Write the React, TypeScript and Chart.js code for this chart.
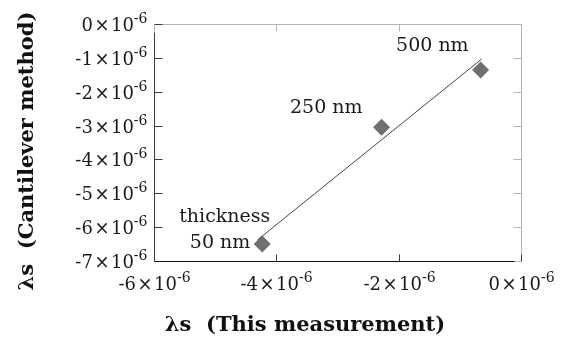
import React, { useEffect, useRef } from "react";
import { Chart, registerables } from "chart.js";
Chart.register(...registerables);

// ---- data ----
const thicknessLabels = ["50 nm", "250 nm", "500 nm"];
const thisMeasurement = [-4.23e-6, -2.28e-6, -0.66e-6];
const cantileverMethod = [-6.5e-6, -3.05e-6, -1.36e-6];
const fitX = [-4.31e-6, -0.64e-6];
const fitY = [-6.38e-6, -1.03e-6];
const xTickValues = [-6, -4, -2, 0];
const yTickValues = [0, -1, -2, -3, -4, -5, -6, -7];
const xTitle = "λs  (This measurement)";
const yTitle = "λs  (Cantilever method)";
const extraLabel = "thickness";

const FONT = "'DejaVu Serif', 'Liberation Serif', serif";
const TICK_PX = 18;
const SUP_PX = 14;
const ANNO_PX = 19;

function drawSciLabel(ctx: CanvasRenderingContext2D, mant: number, x: number, y: number, align: "right" | "center") {
  const a = `${mant}`;
  const times = "×";
  const ten = "10";
  const sup = "-6";
  ctx.font = `${TICK_PX}px ${FONT}`;
  const wa = ctx.measureText(a).width;
  const wt = ctx.measureText(times).width;
  const w10 = ctx.measureText(ten).width;
  ctx.font = `${SUP_PX}px ${FONT}`;
  const ws = ctx.measureText(sup).width;
  const gap = 1.5;
  const total = wa + gap + wt + gap + w10 + ws;
  let s = align === "right" ? x - total : x - total / 2;
  ctx.textAlign = "left";
  ctx.textBaseline = "middle";
  ctx.fillStyle = "#1a1a1a";
  ctx.font = `${TICK_PX}px ${FONT}`;
  ctx.fillText(a, s, y + 2);
  s += wa + gap;
  ctx.fillText(times, s, y + 2);
  s += wt + gap;
  ctx.fillText(ten, s, y + 2);
  s += w10;
  ctx.font = `${SUP_PX}px ${FONT}`;
  ctx.fillText(sup, s, y - 5);
}

const framePlugin = {
  id: "frame",
  afterDatasetsDraw(chart: any) {
    const ctx: CanvasRenderingContext2D = chart.ctx;
    const xs = chart.scales.x;
    const ys = chart.scales.y;
    ctx.save();
    ctx.fillStyle = "#1a1a1a";
    ctx.font = `${ANNO_PX}px ${FONT}`;
    ctx.textBaseline = "middle";
    ctx.textAlign = "right";
    const offsets = [
      [-12, -1],
      [-19, -19],
      [-12, -24],
    ];
    thicknessLabels.forEach((lab, i) => {
      const px = xs.getPixelForValue(thisMeasurement[i]);
      const py = ys.getPixelForValue(cantileverMethod[i]);
      ctx.fillText(lab, px + offsets[i][0], py + offsets[i][1]);
      if (i === 0) ctx.fillText(extraLabel, px + 8, py - 27);
    });
    ctx.restore();
  },
  afterDraw(chart: any) {
    const ctx: CanvasRenderingContext2D = chart.ctx;
    const { left, right, top, bottom } = chart.chartArea;
    const xs = chart.scales.x;
    const ys = chart.scales.y;
    ctx.save();
    ctx.lineWidth = 1;
    const light = "#b4b4b4";
    const dark = "#3c3c3c";
    const L = Math.round(left) + 0.5, R = Math.round(right) + 0.5, T = Math.round(top) + 0.5, B = Math.round(bottom) + 0.5;
    const line = (x1: number, y1: number, x2: number, y2: number, c: string) => {
      ctx.strokeStyle = c;
      ctx.beginPath();
      ctx.moveTo(x1, y1);
      ctx.lineTo(x2, y2);
      ctx.stroke();
    };
    line(L, T, R, T, light);
    line(R, T, R, B, light);
    yTickValues.forEach((v) => {
      const p = Math.round(ys.getPixelForValue(v * 1e-6)) + 0.5;
      line(L, p, L + 8, p, dark);
      line(R - 8, p, R, p, light);
      drawSciLabel(ctx, v, L - 7, p, "right");
    });
    xTickValues.forEach((v) => {
      const p = Math.round(xs.getPixelForValue(v * 1e-6)) + 0.5;
      line(p, B, p, B - 7, dark);
      line(p, T, p, T + 7, light);
      drawSciLabel(ctx, v, p, B + 22, "center");
    });
    line(L, T + 8, L, B, dark);
    line(L, B, R - 7, B, "#111");
    // titles
    ctx.fillStyle = "#111";
    ctx.font = `bold 21px ${FONT}`;
    ctx.textAlign = "center";
    ctx.textBaseline = "middle";
    ctx.fillText(xTitle, 305, 326);
    ctx.translate(28, 151);
    ctx.rotate(-Math.PI / 2);
    ctx.fillText(yTitle, 0, 0);
    ctx.restore();
  },
};

export default function App() {
  const ref = useRef<HTMLCanvasElement>(null);
  useEffect(() => {
    if (!ref.current) return;
    const chart = new Chart(ref.current, {
      type: "scatter",
      data: {
        datasets: [
          {
            label: "fit",
            data: fitX.map((x, i) => ({ x, y: fitY[i] })),
            showLine: true,
            borderColor: "#444",
            borderWidth: 1,
            pointRadius: 0,
          },
          {
            label: "points",
            data: thisMeasurement.map((x, i) => ({ x, y: cantileverMethod[i] })),
            pointStyle: "rectRot",
            pointRadius: 8.5,
            backgroundColor: "#6f6f6f",
            borderColor: "#6f6f6f",
            borderWidth: 0,
          },
        ],
      },
      options: {
        responsive: false,
        animation: false,
        layout: { padding: { left: 0, top: 24, right: 49, bottom: 0 } },
        plugins: { legend: { display: false }, tooltip: { enabled: false } },
        scales: {
          x: {
            type: "linear",
            min: -6e-6,
            max: 0,
            ticks: { display: false, stepSize: 2e-6 },
            grid: { display: false },
            border: { display: false },
            afterFit: (s: any) => {
              s.height = 79;
            },
          },
          y: {
            type: "linear",
            min: -7e-6,
            max: 0,
            ticks: { display: false, stepSize: 1e-6 },
            grid: { display: false },
            border: { display: false },
            afterFit: (s: any) => {
              s.width = 154;
            },
          },
        },
      },
      plugins: [framePlugin],
    });
    return () => chart.destroy();
  }, []);
  return (
    <div style={{ position: "absolute", left: 0, top: 0, width: 570, height: 340, background: "#fff" }}>
      <canvas ref={ref} width={570} height={340} style={{ display: "block" }} />
    </div>
  );
}
